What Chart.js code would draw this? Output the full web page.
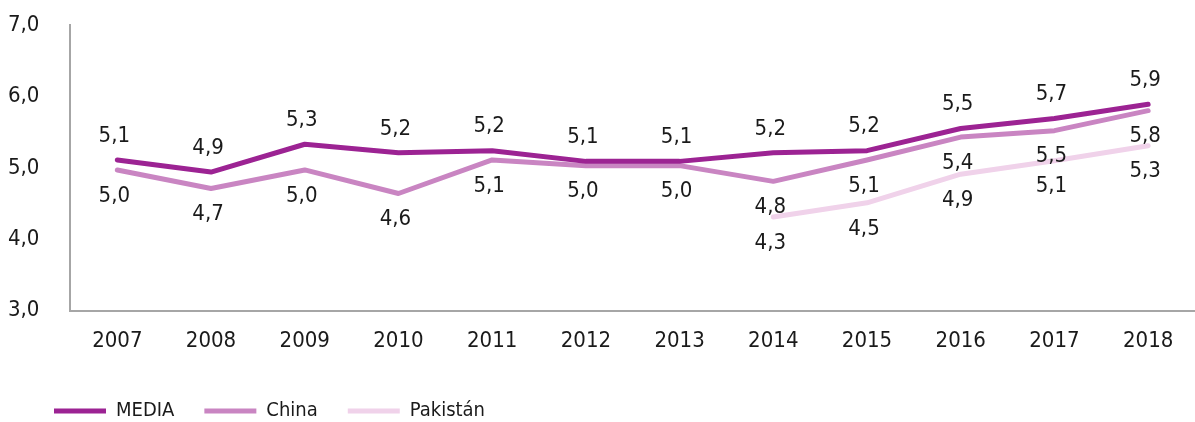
<!DOCTYPE html>
<html>
<head>
<meta charset="utf-8">
<script src="https://cdn.jsdelivr.net/npm/chart.js@4"></script>
<style>
  html, body { margin: 0; padding: 0; background: #fff; }
  #wrap { width: 1195px; height: 422px; }
</style>
</head>
<body>
<div id="wrap"><canvas id="myChart"></canvas></div>
<script>
const years = ['2007', '2008', '2009', '2010', '2011', '2012', '2013', '2014', '2015', '2016', '2017', '2018'];
const media = [5.11, 4.94, 5.33, 5.21, 5.24, 5.09, 5.09, 5.21, 5.24, 5.55, 5.69, 5.89];
const china = [4.97, 4.71, 4.97, 4.64, 5.11, 5.03, 5.03, 4.81, 5.11, 5.43, 5.52, 5.8];
const pakistan = [null, null, null, null, null, null, null, 4.31, 4.51, 4.91, 5.1, 5.31];
const yTicks = [3, 4, 5, 6, 7];

const FONT = "'DejaVu Sans Condensed', 'Liberation Sans', sans-serif";

function fmt(v) {
  return v.toFixed(1).replace('.', ',');
}

// draws the value next to each point: above for MEDIA, below for the others
const valueLabels = {
  id: 'valueLabels',
  afterDatasetsDraw(chart) {
    const ctx = chart.ctx;
    ctx.save();
    ctx.font = '22px ' + FONT;
    ctx.fillStyle = '#1a1a1a';
    ctx.textAlign = 'center';
    ctx.textBaseline = 'middle';
    chart.data.datasets.forEach((ds, i) => {
      const meta = chart.getDatasetMeta(i);
      meta.data.forEach((pt, j) => {
        const v = ds.data[j];
        if (v == null) return;
        const dy = i === 0 ? -24 : 26;
        ctx.fillText(fmt(v), pt.x - 3, pt.y + dy);
      });
    });
    ctx.restore();
  }
};

// nudge the legend right so it starts under the axis labels
const legendShift = {
  id: 'legendShift',
  afterLayout(chart) {
    chart.legend.left += 16;
    chart.legend.right += 16;
  }
};

function series(label, data, color) {
  return {
    label: label,
    data: data,
    borderColor: color,
    backgroundColor: color,
    borderWidth: 5,
    pointBorderWidth: 5,
    pointBorderColor: color
  };
}

const ctx = document.getElementById('myChart');
const chart = new Chart(ctx, {
  type: 'line',
  data: {
    labels: years,
    datasets: [
      series('MEDIA', media, '#9c2393'),
      series('China', china, '#c985c2'),
      series('Pakistán', pakistan, '#f0d2ea')
    ]
  },
  options: {
    responsive: true,
    maintainAspectRatio: false,
    animation: false,
    layout: { padding: { top: 25, left: 8, right: 0, bottom: -9 } },
    elements: {
      line: { tension: 0, borderCapStyle: 'round', borderJoinStyle: 'round' },
      point: { radius: 0 }
    },
    plugins: {
      legend: {
        position: 'bottom',
        align: 'start',
        labels: {
          usePointStyle: true,
          pointStyle: 'line',
          pointStyleWidth: 52,
          boxWidth: 52,
          boxHeight: 8,
          padding: 30,
          color: '#1a1a1a',
          font: { family: FONT, size: 20 }
        }
      },
      tooltip: { enabled: false }
    },
    scales: {
      x: {
        offset: true,
        grid: { display: false, drawTicks: false },
        border: { display: true, color: '#a6a6a6', width: 2 },
        ticks: { color: '#1a1a1a', padding: 17, font: { family: FONT, size: 22 } }
      },
      y: {
        min: yTicks[0],
        max: yTicks[yTicks.length - 1],
        grid: { display: false, tickLength: 31 },
        border: { display: true, color: '#a6a6a6', width: 2 },
        ticks: {
          stepSize: yTicks[1] - yTicks[0],
          color: '#1a1a1a',
          padding: 0,
          font: { family: FONT, size: 22 },
          callback: v => fmt(v)
        }
      }
    }
  },
  plugins: [valueLabels, legendShift]
});
</script>
</body>
</html>
